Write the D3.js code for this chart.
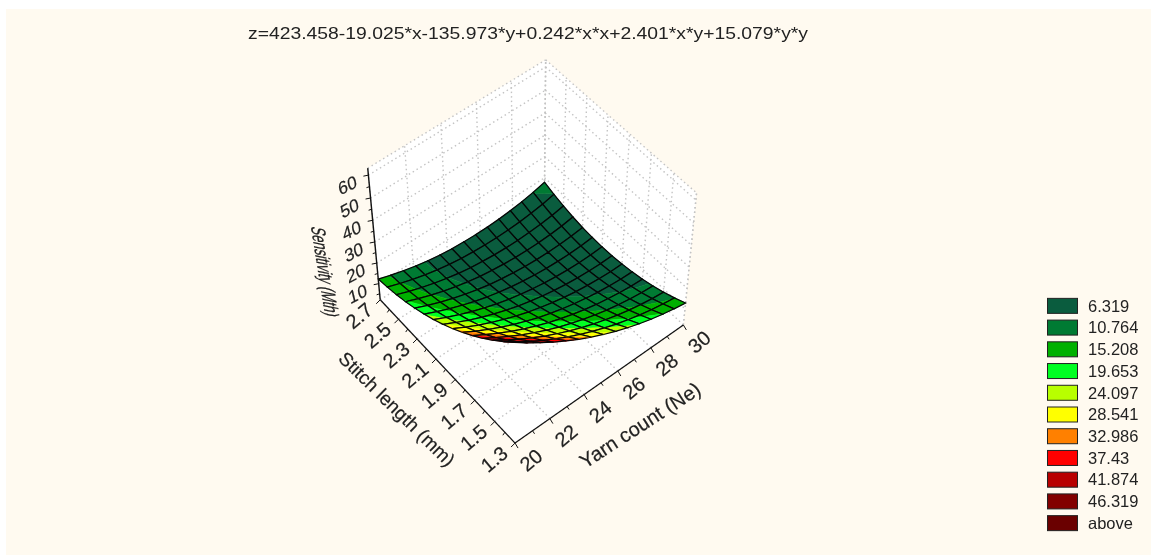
<!DOCTYPE html>
<html>
<head>
<meta charset="utf-8">
<script src="https://cdn.jsdelivr.net/npm/d3@7"></script>
<style>
  html, body { margin: 0; padding: 0; background: #fff; overflow: hidden; }
  svg { display: block; filter: blur(0.45px); }
  text { font-family: "Liberation Sans", Arial, sans-serif; fill: #222; }
</style>
</head>
<body>
<div id="chart"></div>
<script>
'use strict';

const TITLE = 'z=423.458-19.025*x-135.973*y+0.242*x*x+2.401*x*y+15.079*y*y';

const yarnCount = [20, 20.714, 21.429, 22.143, 22.857, 23.571, 24.286, 25, 25.714, 26.429, 27.143, 27.857, 28.571, 29.286, 30];
const stitchLength = [1.3, 1.4, 1.5, 1.6, 1.7, 1.8, 1.9, 2.0, 2.1, 2.2, 2.3, 2.4, 2.5, 2.6, 2.7];

// one row per stitch length, one column per yarn count
const sensitivity = [
  [50.90, 46.58, 42.50, 38.67, 35.09, 31.76, 28.67, 25.83, 23.25, 20.90, 18.80, 16.95, 15.33, 13.97, 12.86],
  [46.18, 42.03, 38.12, 34.46, 31.05, 27.89, 24.97, 22.31, 19.90, 17.72, 15.79, 14.11, 12.66, 11.47, 10.54],
  [41.77, 37.79, 34.05, 30.56, 27.32, 24.33, 21.58, 19.10, 16.86, 14.85, 13.09, 11.58, 10.30, 9.28, 8.53],
  [37.65, 33.84, 30.27, 26.95, 23.88, 21.06, 18.48, 16.18, 14.11, 12.27, 10.68, 9.34, 8.23, 7.38, 6.81],
  [33.84, 30.20, 26.80, 23.65, 20.75, 18.10, 15.69, 13.57, 11.67, 10.00, 8.58, 7.41, 6.47, 5.79, 5.40],
  [30.33, 26.86, 23.63, 20.65, 17.92, 15.44, 13.20, 11.26, 9.53, 8.03, 6.78, 5.78, 5.01, 4.50, 4.29],
  [27.12, 23.82, 20.76, 17.95, 15.39, 13.08, 11.01, 9.25, 7.69, 6.36, 5.28, 4.45, 3.85, 3.51, 3.48],
  [24.21, 21.08, 18.19, 15.55, 13.16, 11.02, 9.12, 7.54, 6.15, 4.99, 4.08, 3.42, 2.99, 2.82, 2.97],
  [21.60, 18.64, 15.92, 13.45, 11.23, 9.26, 7.53, 6.13, 4.91, 3.92, 3.18, 2.69, 2.43, 2.43, 2.76],
  [19.29, 16.50, 13.95, 11.65, 9.60, 7.80, 6.24, 5.02, 3.97, 3.15, 2.58, 2.26, 2.17, 2.34, 2.85],
  [17.29, 14.67, 12.29, 10.16, 8.28, 6.65, 5.26, 4.22, 3.34, 2.69, 2.29, 2.14, 2.22, 2.56, 3.25],
  [15.59, 13.14, 10.93, 8.97, 7.26, 5.80, 4.58, 3.72, 3.01, 2.53, 2.30, 2.32, 2.57, 3.08, 3.95],
  [14.18, 11.90, 9.86, 8.07, 6.53, 5.24, 4.19, 3.51, 2.97, 2.66, 2.60, 2.79, 3.21, 3.89, 4.94],
  [13.08, 10.97, 9.10, 7.48, 6.11, 4.99, 4.11, 3.61, 3.24, 3.10, 3.21, 3.57, 4.16, 5.01, 6.24],
  [12.29, 10.35, 8.65, 7.20, 6.00, 5.05, 4.34, 4.02, 3.82, 3.85, 4.13, 4.66, 5.42, 6.44, 7.85],
];

const legendLabels = ['6.319', '10.764', '15.208', '19.653', '24.097', '28.541', '32.986', '37.43', '41.874', '46.319', 'above'];
const legendColors = ['#0a5c3e', '#007a33', '#00b000', '#00ff22', '#b8ff00', '#ffff00', '#ff8000', '#ff0000', '#b80000', '#820000', '#6a0000'];

const xTicks = [20, 22, 24, 26, 28, 30];
const xMinor = [21, 23, 25, 27, 29];
const yTicks = [1.3, 1.5, 1.7, 1.9, 2.1, 2.3, 2.5, 2.7];
const yMinor = [1.4, 1.6, 1.8, 2.0, 2.2, 2.4, 2.6];
const zTicks = [10, 20, 30, 40, 50, 60];
const zMinor = [5, 15, 25, 35, 45, 55];

const W = 1151, H = 556;
const GRID = '#c4c4c4';

// box corners: cube coords -> where they land on the page
const BOX = [
  [0, 0, 0, 515, 443], [1, 0, 0, 683, 325], [0, 1, 0, 380, 300], [1, 1, 0, 545, 194],
  [0, 1, 1, 368, 168], [1, 0, 1, 697, 193], [1, 1, 1, 545, 60],
];

// least squares fit of the 3x4 camera matrix (last entry fixed to 1)
function fitCamera(pts) {
  const rows = [], rhs = [];
  pts.forEach(([u, v, w, sx, sy]) => {
    rows.push([u, v, w, 1, 0, 0, 0, 0, -sx * u, -sx * v, -sx * w]); rhs.push(sx);
    rows.push([0, 0, 0, 0, u, v, w, 1, -sy * u, -sy * v, -sy * w]); rhs.push(sy);
  });
  const n = 11;
  const A = d3.range(n).map(a => d3.range(n + 1).map(b =>
    b < n ? d3.sum(rows, r => r[a] * r[b]) : d3.sum(rows, (r, k) => r[a] * rhs[k])));
  for (let c = 0; c < n; c++) {
    let p = c;
    for (let r = c + 1; r < n; r++) if (Math.abs(A[r][c]) > Math.abs(A[p][c])) p = r;
    [A[c], A[p]] = [A[p], A[c]];
    for (let r = 0; r < n; r++) {
      if (r === c) continue;
      const f = A[r][c] / A[c][c];
      for (let k = c; k <= n; k++) A[r][k] -= f * A[c][k];
    }
  }
  return A.map((r, i) => r[n] / r[i]);
}

const cam = fitCamera(BOX);
function project(u, v, w) {
  const d = cam[8] * u + cam[9] * v + cam[10] * w + 1;
  return [
    (cam[0] * u + cam[1] * v + cam[2] * w + cam[3]) / d,
    (cam[4] * u + cam[5] * v + cam[6] * w + cam[7]) / d,
  ];
}

const xs = d3.scaleLinear().domain([20, 30]).range([0, 1]);
const ys = d3.scaleLinear().domain([1.3, 2.7]).range([0, 1]);
const zs = d3.scaleLinear().domain([2, 63]).range([0, 1]);

const svg = d3.select('#chart').append('svg').attr('width', W).attr('height', H);
svg.append('rect').attr('x', 6).attr('y', 9).attr('width', W - 6).attr('height', H - 10).attr('fill', '#fffaf0');

svg.append('text').attr('x', 528).attr('y', 39).attr('text-anchor', 'middle')
  .attr('font-size', 17).attr('textLength', 560).attr('lengthAdjust', 'spacingAndGlyphs').text(TITLE);

const line = d3.line();
const closed = pts => line(pts) + 'Z';

// walls and floor
const walls = svg.append('g');
[
  [[0, 0, 0], [1, 0, 0], [1, 1, 0], [0, 1, 0]],
  [[0, 1, 0], [1, 1, 0], [1, 1, 1], [0, 1, 1]],
  [[1, 0, 0], [1, 1, 0], [1, 1, 1], [1, 0, 1]],
].forEach(q => walls.append('path').attr('d', closed(q.map(p => project(...p)))).attr('fill', '#fff'));

function dotted(a, b) {
  walls.append('path').attr('d', line([project(...a), project(...b)]))
    .attr('fill', 'none').attr('stroke', GRID).attr('stroke-width', 1.4).attr('stroke-dasharray', '1.5 3');
}
xTicks.forEach(t => { const u = xs(t); dotted([u, 0, 0], [u, 1, 0]); dotted([u, 1, 0], [u, 1, 1]); });
yTicks.forEach(t => { const v = ys(t); dotted([0, v, 0], [1, v, 0]); dotted([1, v, 0], [1, v, 1]); });
zTicks.forEach(t => { const w = zs(t); dotted([0, 1, w], [1, 1, w]); dotted([1, 1, w], [1, 0, w]); });
dotted([0, 1, 1], [1, 1, 1]); dotted([1, 1, 1], [1, 0, 1]);
dotted([1, 0, 0], [1, 0, 1]); dotted([1, 1, 0], [1, 1, 1]);

// surface, back corner first so nearer cells paint over it
function clipZ(poly, limit, keepAbove) {
  const out = [];
  poly.forEach((a, i) => {
    const b = poly[(i + 1) % poly.length];
    const ina = keepAbove ? a.z >= limit : a.z <= limit;
    const inb = keepAbove ? b.z >= limit : b.z <= limit;
    if (ina) out.push(a);
    if (ina !== inb) {
      const t = (limit - a.z) / (b.z - a.z);
      out.push({ u: a.u + t * (b.u - a.u), v: a.v + t * (b.v - a.v), z: limit });
    }
  });
  return out;
}

const levels = legendLabels.slice(0, -1).map(Number);
const toScreen = p => project(p.u, p.v, zs(p.z));
const node = (j, i) => ({ u: xs(yarnCount[i]), v: ys(stitchLength[j]), z: sensitivity[j][i] });

const surface = svg.append('g');
for (let j = stitchLength.length - 2; j >= 0; j--) {
  for (let i = yarnCount.length - 2; i >= 0; i--) {
    const cell = [node(j, i), node(j, i + 1), node(j + 1, i + 1), node(j + 1, i)];
    legendColors.forEach((color, b) => {
      let poly = cell;
      if (b > 0) poly = clipZ(poly, levels[b - 1], true);
      if (b < levels.length && poly.length) poly = clipZ(poly, levels[b], false);
      if (poly.length < 3) return;
      surface.append('path').attr('d', closed(poly.map(toScreen)))
        .attr('fill', color).attr('stroke', color).attr('stroke-width', 0.5);
    });
    surface.append('path').attr('d', closed(cell.map(toScreen)))
      .attr('fill', 'none').attr('stroke', '#050505').attr('stroke-width', 1.25);
  }
}

// axes
const axes = svg.append('g');
function blackLine(a, b, sw) {
  axes.append('path').attr('d', line([a, b])).attr('fill', 'none').attr('stroke', '#111').attr('stroke-width', sw);
}
blackLine(project(0, 0, 0), project(1, 0, 0), 1.2);
blackLine(project(0, 0, 0), project(0, 1, 0), 1.2);
blackLine(project(0, 1, 0), project(0, 1, 1), 1.4);

function tick(p, dx, dy) { blackLine(p, [p[0] + dx, p[1] + dy], 1); }
xTicks.forEach(t => tick(project(xs(t), 0, 0), 3, 5));
xMinor.forEach(t => tick(project(xs(t), 0, 0), 2, 3));
yTicks.forEach(t => tick(project(0, ys(t), 0), -4, 4));
yMinor.forEach(t => tick(project(0, ys(t), 0), -2, 3));
zTicks.forEach(t => tick(project(0, 1, zs(t)), -5, 1));
zMinor.forEach(t => tick(project(0, 1, zs(t)), -3, 1));

function label(txt, x, y, size, transform) {
  axes.append('text').attr('transform', `translate(${x},${y}) ${transform}`)
    .attr('text-anchor', 'middle').attr('dy', '0.35em').attr('font-size', size)
    .attr('stroke', '#222').attr('stroke-width', 0.2).text(txt);
}
xTicks.forEach(t => { const [px, py] = project(xs(t), 0, 0); label(t, px + 16, py + 17, 20, 'rotate(-40)'); });
yTicks.forEach(t => { const [px, py] = project(0, ys(t), 0); label(t.toFixed(1), px - 21, py + 16, 20, 'rotate(-40)'); });
zTicks.forEach(t => { const [px, py] = project(0, 1, zs(t)); label(t, px - 21, py + 10, 18, 'rotate(-28) skewX(-14) scale(1,0.95)'); });

label('Yarn count (Ne)', 640, 425, 20, 'rotate(-33)');
label('Stitch length (mm)', 397, 409, 19, 'rotate(44.5)');
label('Sensitivity (Mth)', 325, 272, 15, 'rotate(81) skewX(-20) scale(0.85,1.3)');

// legend
const legend = svg.append('g');
const rowY = d3.scaleBand().domain(legendLabels).range([295, 534]);
legendLabels.forEach((name, k) => {
  const cy = rowY(name) + rowY.bandwidth() / 2;
  legend.append('rect').attr('x', 1047.5).attr('y', cy - 7.5).attr('width', 30).attr('height', 15)
    .attr('fill', legendColors[k]).attr('stroke', '#222').attr('stroke-width', 1);
  legend.append('text').attr('x', 1088).attr('y', cy).attr('dy', '0.35em').attr('font-size', 16.5).attr('fill', '#333').text(name);
});
</script>
</body>
</html>
